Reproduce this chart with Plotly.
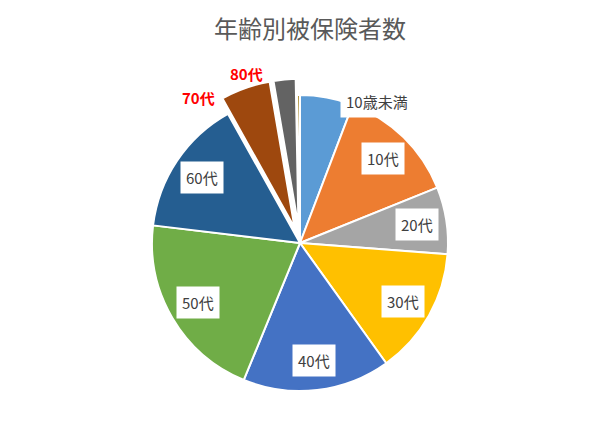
import math
import plotly.graph_objects as go

# 年齢別被保険者数 (読み取り値, %)
AGE_GROUPS = ["10歳未満", "10代", "20代", "30代", "40代", "50代", "60代", "70代", "80代", "90代"]
SHARES = [5.8, 13.1, 7.3, 13.9, 16.1, 20.7, 15.0, 5.4, 2.4, 0.3]
PULLED = ["70代", "80代"]
OUTSIDE_LABELS = ["70代", "80代"]
HIDDEN_LABELS = ["90代"]

COLORS = ['#5B9BD5', '#ED7D31', '#A5A5A5', '#FFC000', '#4472C4',
          '#70AD47', '#255E91', '#9E480E', '#636363', '#997300']

W, H = 600, 433
CX, CY = 300, 243      # pie centre in px
R = 148                 # pie radius in px
PULL = 0.11
DOM_R = R * (1 + PULL)
# angle nudges for the outside (red) labels
OUTSIDE_SHIFT = {"70代": -15.5, "80代": -12}

fig = go.Figure()
fig.add_trace(go.Pie(
    labels=AGE_GROUPS,
    values=SHARES,
    sort=False,
    direction='clockwise',
    rotation=0,
    pull=[PULL if g in PULLED else 0 for g in AGE_GROUPS],
    marker=dict(colors=COLORS, line=dict(color='white', width=2)),
    textinfo='none',
    hoverinfo='label+value',
    showlegend=False,
    domain=dict(x=[(CX - DOM_R) / W, (CX + DOM_R) / W],
                y=[(H - CY - DOM_R) / H, (H - CY + DOM_R) / H]),
))

# labels placed from slice mid-angles
total = sum(SHARES)
cum = 0
for g, v in zip(AGE_GROUPS, SHARES):
    mid = (cum + v / 2) / total * 360
    cum += v
    if g in HIDDEN_LABELS:
        continue
    if g in OUTSIDE_LABELS:
        ang, rr = mid + OUTSIDE_SHIFT[g], 1.2
        font = dict(family='Noto Sans CJK JP', size=15, color='#FF0000', weight='bold')
        bg = 'rgba(0,0,0,0)'
    elif g == AGE_GROUPS[0]:
        ang, rr = mid + 18, 1.09
        font = dict(family='Noto Sans CJK JP', size=15, color='#404040')
        bg = 'white'
    else:
        ang, rr = mid, 0.8
        font = dict(family='Noto Sans CJK JP', size=15, color='#404040')
        bg = 'white'
    px = CX + rr * R * math.sin(math.radians(ang))
    py = CY - rr * R * math.cos(math.radians(ang))
    fig.add_annotation(
        x=px / W, y=1 - py / H, xref='paper', yref='paper',
        text=g, showarrow=False, font=font,
        bgcolor=bg, borderpad=5,
        xanchor='center', yanchor='middle',
    )

fig.update_layout(
    title=dict(text='年齢別被保険者数', x=310 / W, xanchor='center', y=1 - 30 / H, yanchor='middle',
               font=dict(family='Noto Sans CJK JP', size=24, color='#595959')),
    width=W, height=H,
    margin=dict(l=0, r=0, t=0, b=0),
    paper_bgcolor='white',
    plot_bgcolor='white',
)

# page body has a default 8px margin; drop it so the figure sits at 0,0
fig.write_html("out.html", config={'displayModeBar': False},
               post_script="document.body.style.margin='0';")
